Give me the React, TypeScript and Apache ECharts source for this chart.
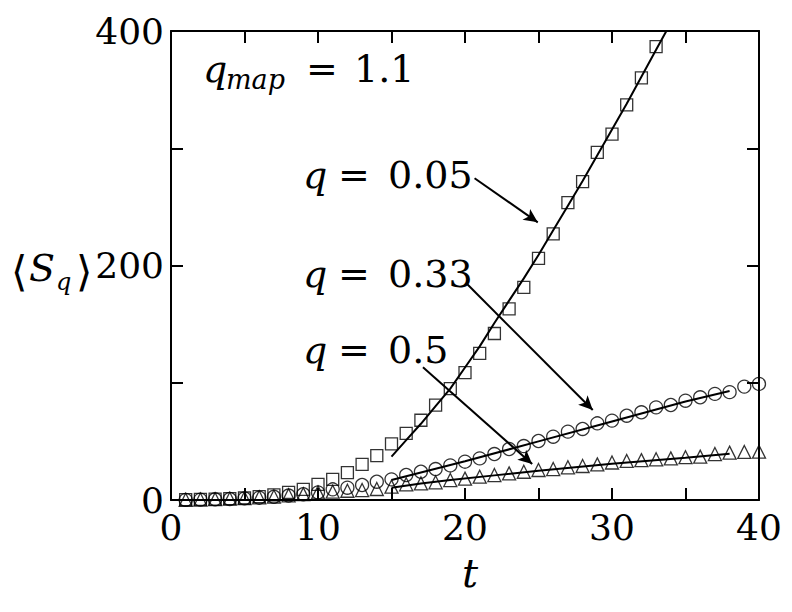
import React, { useEffect, useRef } from "react";
import * as echarts from "echarts";

const tSquares = [1,2,3,4,5,6,7,8,9,10,11,12,13,14,15,16,17,18,19,20,21,22,23,24,25,26,27,28,29,30,31,32,33];
const vSquares = [0.3,0.5,0.8,1.2,1.7,2.9,4.3,6.5,9.1,13.4,17.6,23.3,30.4,37.8,47.8,56.9,68,81,95,108.6,125,142,163,181.4,206,227,253.6,271.5,296.5,312,337,360,386.6];

const tCircles = [1,2,3,4,5,6,7,8,9,10,11,12,13,14,15,16,17,18,19,20,21,22,23,24,25,26,27,28,29,30,31,32,33,34,35,36,37,38,39,40];
const vCircles = [0.1,0.3,0.6,0.9,1.4,2,2.8,3.8,4.9,6.5,9.1,10.5,12.8,15.6,17.6,21.3,24.1,26.4,29.5,32.7,35.5,39.2,43.5,46,50.3,54,58.3,60.6,65.4,67.7,71.9,74.8,79,81,84.7,87.6,90.5,92,96.7,99];

const tTriangles = tCircles;
const vTriangles = [0.2,0.4,0.7,1.1,1.7,2.3,3,4,5,6.5,7.1,7.9,8.5,9.4,11.4,13.4,14.2,15.1,17,18.2,19.9,21.3,22.7,24.1,25.6,26.4,27.9,29,30.4,32,33.3,34,34.7,35.5,36.5,37,39.2,40.4,41,41.2];

const tFitA = [15,16,17,18,19,20,21,22,23,24,25,26,27,28,29,30,31,32,33,33.7];
const vFitA = [37,51,65,80,95,113,131,151,170,189,209,230,251,272,294,316,338,361,384,400];
const tFitB = [15,20,25,30,35,38];
const vFitB = [17,33,50,67,84,93];
const tFitC = [15,17,19,22,25,30,35,38];
const vFitC = [10.5,14,17,21,25,31,36,39.5];

// arrows: [startT, startV, endT, endV]
const arrows = [
  [20.65, 274.4, 24.95, 236.8],
  [20.09, 184.8, 28.69, 76.8],
  [17.14, 113.2, 24.57, 30.7],
];

const xTicks = [0, 10, 20, 30, 40];
const yTicks = [0, 200, 400];

const zip = (a: number[], b: number[]) => a.map((x, i) => [x, b[i]]);

const SERIF = "DejaVu Serif";

export default function App() {
  const ref = useRef<HTMLDivElement>(null);
  useEffect(() => {
    document.body.style.margin = "0";
    const chart = echarts.init(ref.current!, null, { renderer: "svg" });
    const axisCommon = {
      type: "value" as const,
      axisLine: { show: true, onZero: false, lineStyle: { color: "#000", width: 2 } },
      axisTick: { show: true, inside: true, length: 12, lineStyle: { color: "#000", width: 2 } },
      splitLine: { show: false },
    };
    const markerStyle = { color: "rgba(0,0,0,0)", borderColor: "#000", borderWidth: 1.3 };
    const txt = (text: string, x: number, y: number, size: number, italic: boolean, align = "left") => ({
      type: "text",
      x,
      y,
      style: {
        text,
        font: (italic ? "italic " : "") + size + "px " + SERIF,
        fill: "#000",
        align,
        verticalAlign: "middle",
      },
    });
    chart.setOption({
      animation: false,
      backgroundColor: "#fff",
      grid: { left: 171, right: 33, top: 31, bottom: 112 },
      xAxis: [
        {
          ...axisCommon,
          min: 0,
          max: 40,
          interval: 5,
          position: "bottom",
          axisLabel: {
            show: true,
            margin: 9,
            fontFamily: SERIF,
            fontSize: 36,
            color: "#000",
            showMinLabel: true,
            showMaxLabel: true,
            hideOverlap: false,
            formatter: (v: number) => (xTicks.includes(v) ? String(v) : ""),
          },
        },
        { ...axisCommon, min: 0, max: 40, interval: 5, position: "top", axisLabel: { show: false } },
      ],
      yAxis: [
        {
          ...axisCommon,
          min: 0,
          max: 400,
          interval: 100,
          position: "left",
          axisLabel: {
            show: true,
            margin: 7,
            fontFamily: SERIF,
            fontSize: 36,
            color: "#000",
            showMinLabel: true,
            showMaxLabel: true,
            hideOverlap: false,
            formatter: (v: number) => (yTicks.includes(v) ? String(v) : ""),
          },
        },
        { ...axisCommon, min: 0, max: 400, interval: 100, position: "right", axisLabel: { show: false } },
      ],
      series: [
        {
          type: "scatter",
          name: "q=0.05",
          data: zip(tSquares, vSquares),
          symbol: "rect",
          symbolSize: 12,
          itemStyle: markerStyle,
          z: 3,
        },
        {
          type: "scatter",
          name: "q=0.33",
          data: zip(tCircles, vCircles),
          symbol: "circle",
          symbolSize: 13,
          itemStyle: markerStyle,
          z: 3,
        },
        {
          type: "scatter",
          name: "q=0.5",
          data: zip(tTriangles, vTriangles),
          symbol: "triangle",
          symbolSize: 13,
          itemStyle: markerStyle,
          z: 3,
        },
        {
          type: "line",
          data: zip(tFitA, vFitA),
          showSymbol: false,
          symbol: "none",
          lineStyle: { color: "#000", width: 2 },
          z: 4,
          markLine: {
            silent: true,
            animation: false,
            label: { show: false },
            symbolSize: [10, 14],
            lineStyle: { color: "#000", width: 2, type: "solid" },
            data: arrows.map((a) => [
              { coord: [a[0], a[1]], symbol: "none" },
              { coord: [a[2], a[3]], symbol: "arrow" },
            ]),
          },
        },
        {
          type: "line",
          data: zip(tFitB, vFitB),
          showSymbol: false,
          symbol: "none",
          lineStyle: { color: "#000", width: 2 },
          z: 4,
        },
        {
          type: "line",
          data: zip(tFitC, vFitC),
          showSymbol: false,
          symbol: "none",
          lineStyle: { color: "#000", width: 2 },
          z: 4,
        },
      ],
      graphic: [
        // q_map = 1.1
        txt("q", 203, 69, 38, true),
        txt("map", 226, 79, 27, true),
        txt("=", 306, 69, 38, false),
        txt("1.1", 354, 69, 38, false),
        // q = 0.05
        txt("q", 303, 175, 38, true),
        txt("=", 338, 175, 38, false),
        txt("0.05", 388, 175, 38, false),
        // q = 0.33
        txt("q", 303, 274, 38, true),
        txt("=", 338, 274, 38, false),
        txt("0.33", 388, 274, 38, false),
        // q = 0.5
        txt("q", 303, 350, 38, true),
        txt("=", 338, 350, 38, false),
        txt("0.5", 388, 350, 38, false),
        // y axis name <S_q>
        txt("\u27E8", 11, 271, 42, false),
        txt("S", 29, 268, 38, true),
        txt("q", 56, 282, 24, true),
        txt("\u27E9", 76, 271, 42, false),
        // x axis name
        txt("t", 470, 573, 40, true, "center"),
      ],
    });
    return () => chart.dispose();
  }, []);
  return <div ref={ref} style={{ position: "fixed", left: 0, top: 0, width: 792, height: 612 }} />;
}
